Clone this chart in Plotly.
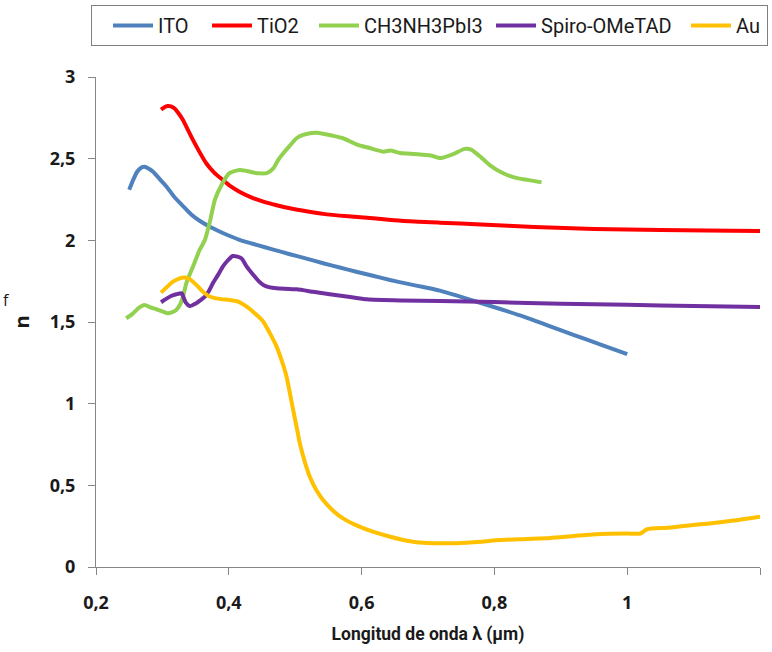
import plotly.graph_objects as go

# ---------------- data ----------------
ito_x = [0.25, 0.256, 0.262, 0.268, 0.273, 0.279, 0.286, 0.296, 0.306, 0.318, 0.331, 0.343,
         0.356, 0.373, 0.391, 0.415, 0.442, 0.467, 0.492, 0.517, 0.542, 0.567, 0.592, 0.617,
         0.643, 0.668, 0.693, 0.718, 0.745, 0.776, 0.81, 0.844, 0.88, 0.919, 0.96, 1.0]
ito_y = [2.31, 2.37, 2.42, 2.445, 2.45, 2.44, 2.42, 2.375, 2.33, 2.265, 2.21, 2.16,
         2.12, 2.08, 2.045, 2.005, 1.972, 1.943, 1.915, 1.888, 1.86, 1.834, 1.808, 1.783,
         1.757, 1.735, 1.714, 1.692, 1.66, 1.621, 1.578, 1.533, 1.48, 1.421, 1.362, 1.304]

tio2_x = [0.298, 0.303, 0.308, 0.313, 0.318, 0.324, 0.331, 0.338, 0.346, 0.356, 0.366, 0.378,
          0.391, 0.403, 0.416, 0.433, 0.452, 0.472, 0.492, 0.517, 0.542, 0.58, 0.617, 0.66,
          0.718, 0.78, 0.86, 0.95, 1.05, 1.12, 1.2]
tio2_y = [2.80, 2.815, 2.823, 2.82, 2.809, 2.78, 2.737, 2.68, 2.615, 2.54, 2.472, 2.415,
          2.37, 2.33, 2.298, 2.265, 2.237, 2.215, 2.196, 2.178, 2.162, 2.147, 2.135, 2.12,
          2.108, 2.097, 2.082, 2.07, 2.063, 2.06, 2.057]

pero_x = [0.2455, 0.255, 0.264, 0.273, 0.282, 0.291, 0.300, 0.308, 0.315, 0.321, 0.327, 0.331,
          0.336, 0.341, 0.346, 0.351, 0.356, 0.364, 0.371, 0.379, 0.389, 0.401, 0.416, 0.427,
          0.437, 0.447, 0.457, 0.467, 0.474, 0.482, 0.492, 0.502, 0.512, 0.522, 0.532, 0.542,
          0.557, 0.572, 0.592, 0.612, 0.633, 0.643, 0.658, 0.68, 0.704, 0.719, 0.739, 0.755,
          0.765, 0.780, 0.793, 0.811, 0.831, 0.85, 0.871]
pero_y = [1.523, 1.55, 1.585, 1.604, 1.59, 1.578, 1.565, 1.553, 1.56, 1.574, 1.61, 1.655,
          1.737, 1.79, 1.839, 1.89, 1.941, 2.002, 2.105, 2.247, 2.339, 2.411, 2.431, 2.425,
          2.415, 2.41, 2.411, 2.441, 2.49, 2.533, 2.58, 2.625, 2.645, 2.656, 2.658, 2.652,
          2.64, 2.625, 2.588, 2.565, 2.543, 2.55, 2.535, 2.528, 2.519, 2.504, 2.529, 2.56,
          2.555, 2.508, 2.461, 2.415, 2.384, 2.37, 2.355]

spiro_x = [0.298, 0.305, 0.313, 0.321, 0.329, 0.331, 0.335, 0.341, 0.351, 0.358, 0.364, 0.370,
           0.376, 0.384, 0.391, 0.398, 0.406, 0.413, 0.419, 0.427, 0.437, 0.445, 0.452, 0.462,
           0.472, 0.502, 0.527, 0.552, 0.58, 0.608, 0.658, 0.718, 0.8, 0.9, 1.0, 1.1, 1.2]
spiro_y = [1.621, 1.64, 1.659, 1.67, 1.676, 1.66, 1.62, 1.598, 1.615, 1.635, 1.655, 1.69,
           1.737, 1.79, 1.839, 1.875, 1.904, 1.90, 1.89, 1.839, 1.788, 1.75, 1.727, 1.712,
           1.707, 1.70, 1.685, 1.67, 1.655, 1.639, 1.632, 1.629, 1.622, 1.612, 1.605, 1.598, 1.592]

au_x = [0.298, 0.307, 0.316, 0.325, 0.333, 0.340, 0.346, 0.353, 0.361, 0.368, 0.376, 0.388,
        0.401, 0.414, 0.427, 0.44, 0.452, 0.462, 0.472, 0.480, 0.487, 0.492, 0.497, 0.502,
        0.507, 0.514, 0.522, 0.532, 0.542, 0.557, 0.572, 0.595, 0.617, 0.643, 0.668, 0.698,
        0.743, 0.78, 0.808, 0.85, 0.884, 0.92, 0.959, 1.0, 1.02, 1.03, 1.06, 1.085, 1.12,
        1.16, 1.2]
au_y = [1.68, 1.715, 1.747, 1.765, 1.772, 1.765, 1.747, 1.72, 1.686, 1.663, 1.649, 1.64,
        1.635, 1.625, 1.594, 1.55, 1.502, 1.43, 1.349, 1.26, 1.165, 1.065, 0.961, 0.86,
        0.757, 0.65, 0.553, 0.47, 0.41, 0.345, 0.298, 0.25, 0.216, 0.185, 0.161, 0.147,
        0.146, 0.155, 0.165, 0.172, 0.178, 0.19, 0.202, 0.205, 0.205, 0.231, 0.24, 0.251, 0.265,
        0.284, 0.308]

series_names = ["ITO", "TiO2", "CH3NH3PbI3", "Spiro-OMeTAD", "Au"]
series_x = [ito_x, tio2_x, pero_x, spiro_x, au_x]
series_y = [ito_y, tio2_y, pero_y, spiro_y, au_y]

x_tickvals = [0.2, 0.4, 0.6, 0.8, 1.0, 1.2]
x_ticktext = ["0,2", "0,4", "0,6", "0,8", "1", "1,2"]
y_tickvals = [0, 0.5, 1, 1.5, 2, 2.5, 3]
y_ticktext = ["0", "0,5", "1", "1,5", "2", "2,5", "3"]

x_title = "Longitud de onda λ (μm)"
y_title = "n"

# ---------------- styles ----------------
series_colors = ["#4F81BD", "#FF0000", "#92D050", "#7030A0", "#FFC000"]
legend_entry_widths = [28, 36, 106, 124, 26]

# ---------------- figure ----------------
fig = go.Figure()
for name, color, lw, xs, ys in zip(series_names, series_colors, legend_entry_widths,
                                   series_x, series_y):
    fig.add_trace(go.Scatter(
        x=xs, y=ys, name=name, mode="lines", legendwidth=lw,
        line=dict(color=color, width=4, shape="spline", smoothing=0.6),
    ))

tick_font = dict(family="Open Sans", size=18, color="#1a1a1a", weight="bold")
axis_gray = "#868686"

fig.update_layout(
    width=772, height=652,
    margin=dict(l=96, r=12, t=77, b=85, autoexpand=False),
    paper_bgcolor="white", plot_bgcolor="white",
    showlegend=True,
    legend=dict(
        orientation="h", x=-0.0075, y=1.147, xanchor="left", yanchor="top",
        bordercolor="#7f7f7f", borderwidth=1, bgcolor="white",
        font=dict(family="Roboto", size=20, color="#1a1a1a"),
        itemwidth=40, indentation=16,
    ),
    xaxis=dict(
        range=[0.2, 1.2], tickvals=x_tickvals, ticktext=x_ticktext,
        ticks="outside", ticklen=7, tickcolor=axis_gray, tickwidth=1,
        showline=True, linecolor=axis_gray, linewidth=1,
        showgrid=False, zeroline=False, tickfont=tick_font,
        ticklabelstandoff=12,
        title=dict(text=x_title, standoff=15,
                   font=dict(family="Roboto", size=17.5, color="#1a1a1a", weight="bold")),
    ),
    yaxis=dict(
        range=[0, 3], tickvals=y_tickvals, ticktext=y_ticktext,
        ticks="outside", ticklen=7, tickcolor=axis_gray, tickwidth=1,
        showline=True, linecolor=axis_gray, linewidth=1,
        showgrid=False, zeroline=False, tickfont=tick_font,
        ticklabelstandoff=9,
        title=dict(text=y_title, standoff=14,
                   font=dict(family="Open Sans", size=20, color="#1a1a1a", weight="bold")),
    ),
    annotations=[dict(
        text="f", xref="paper", yref="paper", x=-0.143, y=0.545,
        xanchor="left", yanchor="middle", showarrow=False,
        font=dict(family="Open Sans", size=16, color="#1a1a1a"),
    )],
)

fig.write_html(
    "out.html",
    config={"displayModeBar": False},
    post_script="document.body.style.margin='0';document.body.style.padding='0';",
)
